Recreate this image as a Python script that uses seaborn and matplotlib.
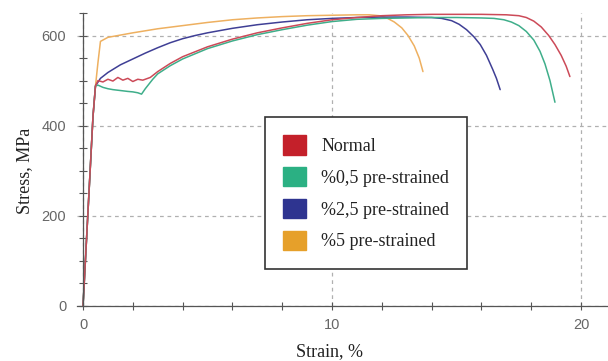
import numpy as np
import pandas as pd
import seaborn as sns
import matplotlib.pyplot as plt
from matplotlib.patches import Patch
from matplotlib.ticker import MultipleLocator, FixedLocator

# --- values ---
normal_strain = [0, 0.2, 0.4, 0.5, 0.6, 0.8, 1.0, 1.2, 1.4, 1.6, 1.8, 2.0, 2.2, 2.4, 2.7,
                 3.0, 3.5, 4.0, 5.0, 6.0, 7.0, 8.0, 9.0, 10.0, 11.0, 12.0, 13.0, 14.0,
                 15.0, 16.0, 17.0, 17.5, 17.8, 18.1, 18.4, 18.7, 18.95, 19.2, 19.4, 19.55]
normal_stress = [0, 210, 420, 488, 500, 497, 503, 499, 507, 501, 505, 498, 503, 501, 507,
                 520, 538, 553, 575, 592, 606, 617, 627, 635, 640, 644, 646, 647,
                 647, 647, 646, 644, 640, 632, 619, 600, 580, 556, 532, 509]

pre05_strain = [0, 0.2, 0.4, 0.5, 0.6, 0.8, 1.0, 1.2, 1.5, 1.8, 2.0, 2.2, 2.35, 2.5, 2.8,
                3.0, 3.5, 4.0, 5.0, 6.0, 7.0, 8.0, 9.0, 10.0, 11.0, 12.0, 13.0, 14.0,
                15.0, 16.0, 16.5, 16.9, 17.2, 17.5, 17.8, 18.1, 18.35, 18.55, 18.75, 18.95]
pre05_stress = [0, 210, 420, 488, 490, 485, 482, 480, 478, 476, 475, 473, 470, 482, 503,
                515, 533, 548, 571, 588, 602, 613, 623, 631, 636, 638, 639, 640,
                640, 639, 638, 635, 630, 622, 609, 590, 565, 537, 500, 452]

pre25_strain = [0, 0.2, 0.4, 0.5, 0.7, 1.0, 1.5, 2.0, 2.5, 3.0, 3.5, 4.0, 4.5, 5.0, 6.0,
                7.0, 8.0, 9.0, 10.0, 11.0, 12.0, 13.0, 14.0, 14.4, 14.8, 15.1, 15.4, 15.7,
                15.95, 16.2, 16.45, 16.6, 16.75]
pre25_stress = [0, 210, 420, 488, 505, 518, 535, 548, 561, 573, 584, 593, 600, 606, 616,
                624, 630, 635, 638, 640, 641, 641, 640, 638, 633, 625, 613, 597,
                580, 556, 525, 505, 480]

pre5_strain = [0, 0.2, 0.4, 0.5, 0.6, 0.7, 1.0, 1.5, 2.0, 3.0, 4.0, 5.0, 6.0, 7.0, 8.0,
               9.0, 10.0, 11.0, 11.5, 11.9, 12.2, 12.5, 12.8, 13.05, 13.3, 13.5, 13.65]
pre5_stress = [0, 210, 420, 488, 540, 587, 596, 601, 606, 615, 622, 629, 635, 639, 642,
               644, 645, 646, 646, 644, 639, 630, 617, 600, 577, 550, 520]

labels = ["Normal", "%0,5 pre-strained", "%2,5 pre-strained", "%5 pre-strained"]
line_colors = ["#cc4a58", "#3fae8a", "#3f3f95", "#eeb060"]
patch_colors = ["#c4202a", "#2bb083", "#2e3490", "#e6a02a"]

frames = []
for lab, xs, ys in zip(labels,
                       [normal_strain, pre05_strain, pre25_strain, pre5_strain],
                       [normal_stress, pre05_stress, pre25_stress, pre5_stress]):
    frames.append(pd.DataFrame({"strain": xs, "stress": ys, "sample": lab}))
df = pd.concat(frames, ignore_index=True)

sns.set_theme(style="white")
plt.rcParams["font.family"] = ["Liberation Serif", "DejaVu Serif"]

fig = plt.figure(figsize=(6.08, 3.61), dpi=100)
ax = fig.add_axes([0.1263, 0.1524, 0.8737, 0.8116])

# draw order: orange underneath, then blue, green, red on top
order = labels[::-1]
sns.lineplot(data=df, x="strain", y="stress", hue="sample", hue_order=order,
             palette=dict(zip(labels, line_colors)), sort=False, estimator=None,
             linewidth=1.1, legend=False, ax=ax)
for ln in ax.lines:
    ln.set_clip_on(False)

ax.set_xlim(-0.25, 21.08)
ax.set_ylim(0, 650)

ax.spines["top"].set_visible(False)
ax.spines["right"].set_visible(False)
ax.spines["left"].set_position(("data", 0))
for s in ["left", "bottom"]:
    ax.spines[s].set_color("#555555")
    ax.spines[s].set_linewidth(0.9)

ax.xaxis.set_major_locator(FixedLocator([0, 10, 20]))
ax.xaxis.set_minor_locator(MultipleLocator(2))
ax.yaxis.set_major_locator(FixedLocator([0, 200, 400, 600]))
ax.yaxis.set_minor_locator(MultipleLocator(50))
ax.tick_params(which="both", direction="inout", length=6, width=0.8, color="#555555",
               bottom=True, left=True)
ax.tick_params(axis="x", which="major", pad=6)
ax.tick_params(axis="y", which="major", pad=9)
for t in ax.get_xticklabels() + ax.get_yticklabels():
    t.set_fontfamily(["Liberation Sans", "DejaVu Sans"])
    t.set_fontsize(10.5)
    t.set_color("#666666")

ax.grid(True, which="major", color="#b0b0b0", linestyle=(0, (3, 3)), linewidth=0.9)
ax.set_axisbelow(True)

ax.set_xlabel("Strain, %", fontsize=13, color="#222222")
ax.set_ylabel("Stress, MPa", fontsize=13, color="#222222")
ax.xaxis.set_label_coords(0.475, -0.125)
ax.yaxis.set_label_coords(-0.083, 0.46)

handles = [Patch(facecolor=c, edgecolor=c) for c in patch_colors]
leg = ax.legend(handles, labels, loc="upper left", bbox_to_anchor=(0.354, 0.645),
                fontsize=13, frameon=True, fancybox=False, framealpha=1,
                handlelength=1.28, handleheight=1.28, handletextpad=0.85,
                labelspacing=0.67, borderpad=1.0, borderaxespad=0)
leg.get_frame().set_edgecolor("#333333")
leg.get_frame().set_linewidth(1.2)
for t in leg.get_texts():
    t.set_color("#222222")

fig.savefig("out.png", dpi=100)
